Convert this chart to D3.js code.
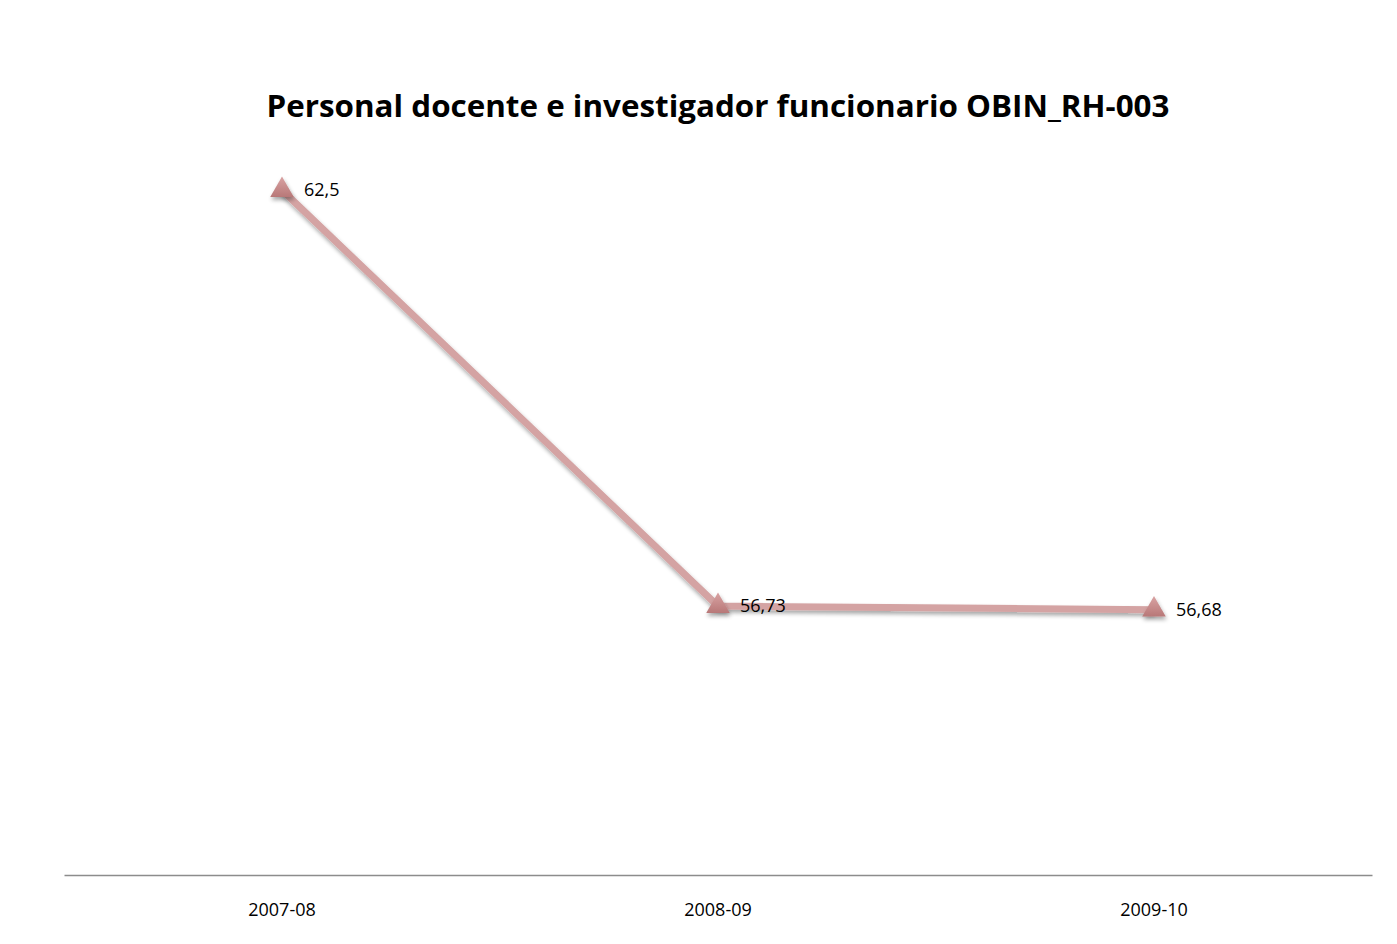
<!DOCTYPE html>
<html><head><meta charset="utf-8">
<script src="https://cdn.jsdelivr.net/npm/d3@7"></script>
<style>body{margin:0;background:#fff;}svg{display:block;}</style>
</head><body>
<script>
const categories = ["2007-08", "2008-09", "2009-10"];
const values = [62.5, 56.73, 56.68];
const valueLabels = ["62,5", "56,73", "56,68"];
const title = "Personal docente e investigador funcionario OBIN_RH-003";

const W = 1397, H = 944;
const svg = d3.select("body").append("svg").attr("width", W).attr("height", H);
const defs = svg.append("defs");
const f = defs.append("filter").attr("id","sh").attr("x","-50%").attr("y","-50%").attr("width","200%").attr("height","200%");
f.append("feGaussianBlur").attr("in","SourceAlpha").attr("stdDeviation",2).attr("result","b");
f.append("feOffset").attr("in","b").attr("dx",1).attr("dy",3).attr("result","o");
f.append("feComponentTransfer").attr("in","o").attr("result","o2").append("feFuncA").attr("type","linear").attr("slope",0.35);
const m = f.append("feMerge"); m.append("feMergeNode").attr("in","o2"); m.append("feMergeNode").attr("in","SourceGraphic");
const g = defs.append("linearGradient").attr("id","tri").attr("x1",0).attr("y1",0).attr("x2",0).attr("y2",1);
g.append("stop").attr("offset","0%").attr("stop-color","#d9a3a3");
g.append("stop").attr("offset","100%").attr("stop-color","#b87878");

const x = d3.scaleBand().domain(categories).range([64, 1372]);
const y = d3.scaleLinear().domain([53, 64]).range([875, 82]);

svg.append("text").attr("x", 718).attr("y", 117).attr("text-anchor","middle")
  .attr("font-family","Open Sans, sans-serif").attr("font-weight","bold").attr("font-size",31)
  .attr("textLength", 903).attr("lengthAdjust","spacingAndGlyphs").attr("fill","#000").text(title);

const xAxis = svg.append("g").attr("transform","translate(0,875)")
  .call(d3.axisBottom(x).tickSize(0).tickPadding(0));
xAxis.select(".domain").attr("stroke","#8c8c8c").attr("stroke-width",1.3);
xAxis.selectAll("text").attr("font-family","Open Sans, sans-serif").attr("font-size",18).attr("fill","#000")
  .attr("dy", null).attr("y", 41);

const cx = d => x(d) + x.bandwidth()/2;
const line = d3.line().x((d,i)=>cx(categories[i])).y(d=>y(d));
svg.append("path").datum(values).attr("d", line).attr("fill","none")
  .attr("stroke","#d4a3a3").attr("stroke-width",7).attr("stroke-linejoin","round").attr("filter","url(#sh)");

const tri = d3.symbol().type(d3.symbolTriangle).size(240);
svg.selectAll(".m").data(values).join("path").attr("class","m")
  .attr("transform",(d,i)=>`translate(${cx(categories[i])},${y(d)})`)
  .attr("d", tri).attr("fill","url(#tri)").attr("filter","url(#sh)");

svg.selectAll(".lbl").data(values).join("text").attr("class","lbl")
  .attr("x",(d,i)=>cx(categories[i]) + 22).attr("y", d=>y(d)+6)
  .attr("font-family","Open Sans, sans-serif").attr("font-size",18).attr("fill","#000")
  .text((d,i)=>valueLabels[i]);
</script>
</body></html>
